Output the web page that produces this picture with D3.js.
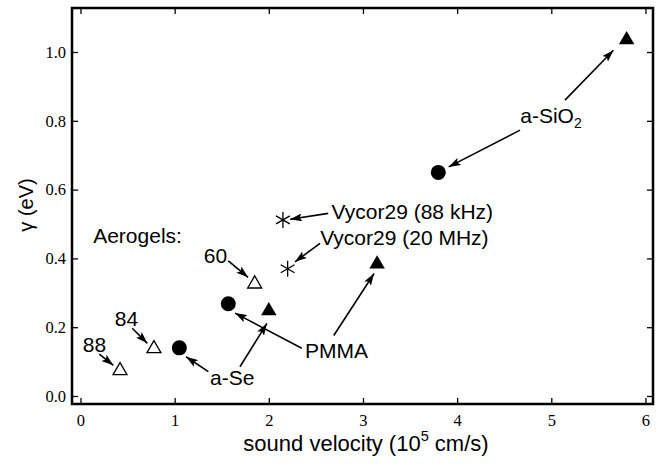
<!DOCTYPE html>
<html>
<head>
<meta charset="utf-8">
<script src="https://cdn.jsdelivr.net/npm/d3@7"></script>
<style>
  html, body { margin: 0; padding: 0; background: #fff; }
  svg text { fill: #000; }
</style>
</head>
<body>
<svg id="chart" width="659" height="465"></svg>
<script>
// ---------- data ----------
const xTicks = [0, 1, 2, 3, 4, 5, 6];
const yTicks = [0.0, 0.2, 0.4, 0.6, 0.8, 1.0];
const yTickLabels = ["0.0", "0.2", "0.4", "0.6", "0.8", "1.0"];

// Aerogels (open triangles)
const aerogelLabels = ["88", "84", "60"];
const aerogelX = [0.42, 0.78, 1.85];
const aerogelY = [0.076, 0.140, 0.328];

// filled circles
const circleLabels = ["a-Se", "PMMA", "a-SiO2"];
const circleX = [1.05, 1.57, 3.80];
const circleY = [0.140, 0.268, 0.650];

// filled triangles
const triangleLabels = ["a-Se", "PMMA", "a-SiO2"];
const triangleX = [2.00, 3.15, 5.80];
const triangleY = [0.250, 0.386, 1.038];

// Vycor (asterisks)
const vycorLabels = ["Vycor29 (88 kHz)", "Vycor29 (20 MHz)"];
const vycorX = [2.15, 2.20];
const vycorY = [0.512, 0.370];

// annotation texts (data coordinates of text anchor / baseline)
const noteText = ["Aerogels:", "88", "84", "60", "a-Se", "PMMA", "Vycor29 (88 kHz)", "Vycor29 (20 MHz)", "a-SiO"];
const noteX = [0.135, 0.025, 0.365, 1.31, 1.376, 2.385, 2.667, 2.545, 4.67];
const noteY = [0.444, 0.129, 0.203, 0.387, 0.032, 0.110, 0.515, 0.440, 0.794];

// arrows: from (x1,y1) to (x2,y2) in data units
const arrowX1 = [0.20, 0.55, 1.57, 1.358, 1.694, 2.35, 2.69, 2.631, 2.544, 4.668, 5.145];
const arrowY1 = [0.122, 0.197, 0.393, 0.071, 0.085, 0.139, 0.176, 0.531, 0.444, 0.773, 0.860];
const arrowX2 = [0.349, 0.710, 1.780, 1.121, 1.98, 1.641, 3.118, 2.226, 2.278, 3.91, 5.66];
const arrowY2 = [0.089, 0.153, 0.345, 0.114, 0.211, 0.241, 0.356, 0.514, 0.390, 0.666, 1.005];

// ---------- layout ----------
const svg = d3.select("#chart");
const L = 72, R = 653, T = 8, B = 404;
const x = d3.scaleLinear().domain([-0.09, 6.08]).range([L, R]);
const y = d3.scaleLinear().domain([-0.0233, 1.128]).range([B, T]);

const sans = "'Liberation Sans', Arial, Helvetica, sans-serif";
const serif = "'Liberation Serif', 'Times New Roman', serif";

// axes (inward ticks on all sides)
const tickLen = 6;
const gx = svg.append("g").attr("transform", `translate(0,${B})`)
  .call(d3.axisBottom(x).tickValues(xTicks).tickSizeInner(-tickLen).tickSizeOuter(0).tickPadding(10).tickFormat(d3.format("d")));
const gxt = svg.append("g").attr("transform", `translate(0,${T})`)
  .call(d3.axisTop(x).tickValues(xTicks).tickSizeInner(-tickLen).tickSizeOuter(0).tickFormat(""));
const gy = svg.append("g").attr("transform", `translate(${L},0)`)
  .call(d3.axisLeft(y).tickValues(yTicks).tickSizeInner(-tickLen).tickSizeOuter(0).tickPadding(6)
    .tickFormat((d, i) => yTickLabels[i]));
const gyr = svg.append("g").attr("transform", `translate(${R},0)`)
  .call(d3.axisRight(y).tickValues(yTicks).tickSizeInner(-tickLen).tickSizeOuter(0).tickFormat(""));

[gx, gxt, gy, gyr].forEach(g => {
  g.select(".domain").remove();
  g.selectAll(".tick line").attr("stroke", "#000").attr("stroke-width", 1.3);
  g.selectAll(".tick text").attr("font-family", serif).attr("font-size", 16.5).attr("fill", "#000");
});
gx.selectAll(".tick text").attr("dy", "0.71em");

// frame
svg.append("rect").attr("x", L).attr("y", T).attr("width", R - L).attr("height", B - T)
  .attr("fill", "none").attr("stroke", "#000").attr("stroke-width", 2.5);

// axis titles
const xt = svg.append("text").attr("x", 366).attr("y", 451).attr("text-anchor", "middle")
  .attr("font-family", sans).attr("font-size", 22);
xt.append("tspan").text("sound velocity (10");
xt.append("tspan").attr("font-size", 14.5).attr("dy", -10).text("5");
xt.append("tspan").attr("dy", 10).text(" cm/s)");

svg.append("text").attr("transform", "translate(33,205) rotate(-90)").attr("text-anchor", "middle")
  .attr("font-family", sans).attr("font-size", 20).text("γ (eV)");

// arrow marker
const defs = svg.append("defs");
defs.append("marker").attr("id", "ah").attr("viewBox", "0 0 12 8").attr("refX", 12).attr("refY", 4)
  .attr("markerWidth", 12).attr("markerHeight", 8).attr("markerUnits", "userSpaceOnUse").attr("orient", "auto")
  .append("path").attr("d", "M0,0 L12,4 L0,8 L2.5,4 Z").attr("fill", "#000");

const arrows = arrowX1.map((d, i) => ({ x1: d, y1: arrowY1[i], x2: arrowX2[i], y2: arrowY2[i] }));
svg.append("g").selectAll("line").data(arrows).join("line")
  .attr("x1", d => x(d.x1)).attr("y1", d => y(d.y1))
  .attr("x2", d => x(d.x2)).attr("y2", d => y(d.y2))
  .attr("stroke", "#000").attr("stroke-width", 1.6).attr("marker-end", "url(#ah)");

// annotation texts
const notes = noteText.map((t, i) => ({ t, x: noteX[i], y: noteY[i] }));
const nt = svg.append("g").selectAll("text").data(notes).join("text")
  .attr("x", d => x(d.x)).attr("y", d => y(d.y))
  .attr("font-family", sans).attr("font-size", 21)
  .text(d => d.t);
// subscript for a-SiO2
nt.filter(d => d.t === "a-SiO").append("tspan").attr("font-size", 14).attr("dy", 5).text("2");

// markers
const tri = (cx, cy, s) => {
  const h = s * 0.866;
  return `M${cx},${cy - h * 0.6} L${cx + s / 2},${cy + h * 0.4} L${cx - s / 2},${cy + h * 0.4} Z`;
};

svg.append("g").selectAll("path").data(aerogelX.map((d, i) => ({ x: d, y: aerogelY[i] }))).join("path")
  .attr("d", d => tri(x(d.x), y(d.y), 14)).attr("fill", "#fff").attr("stroke", "#000").attr("stroke-width", 1.3);

svg.append("g").selectAll("circle").data(circleX.map((d, i) => ({ x: d, y: circleY[i] }))).join("circle")
  .attr("cx", d => x(d.x)).attr("cy", d => y(d.y)).attr("r", 7.5).attr("fill", "#000");

svg.append("g").selectAll("path").data(triangleX.map((d, i) => ({ x: d, y: triangleY[i] }))).join("path")
  .attr("d", d => tri(x(d.x), y(d.y), 15.5)).attr("fill", "#000");

const star = (cx, cy, r) => {
  let p = "";
  [90, 30, 150].forEach(a => {
    const dx = r * Math.cos(a * Math.PI / 180), dy = r * Math.sin(a * Math.PI / 180);
    p += `M${cx - dx},${cy - dy} L${cx + dx},${cy + dy} `;
  });
  return p;
};
svg.append("g").selectAll("path").data(vycorX.map((d, i) => ({ x: d, y: vycorY[i] }))).join("path")
  .attr("d", d => star(x(d.x), y(d.y), 8)).attr("stroke", "#000").attr("stroke-width", 1.3).attr("fill", "none");
</script>
</body>
</html>
